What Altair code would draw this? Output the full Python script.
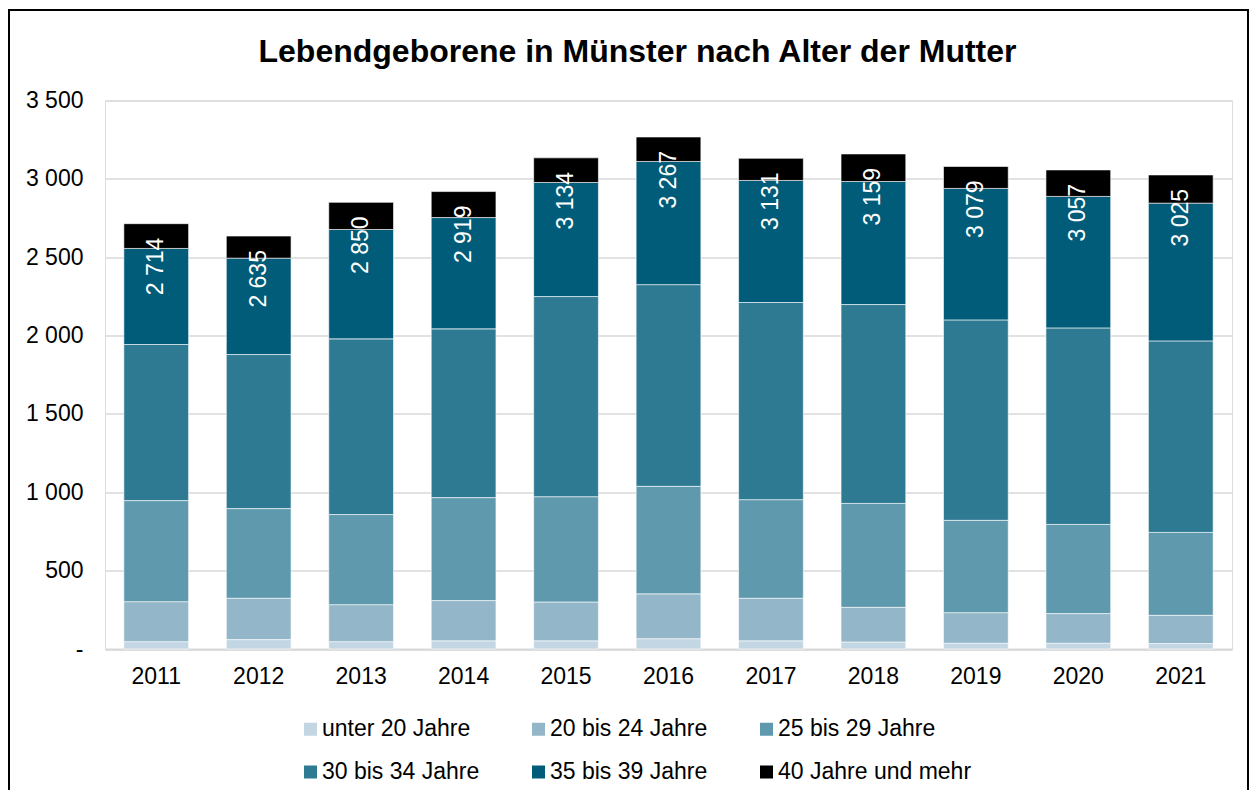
import altair as alt
import pandas as pd

years = ["2011", "2012", "2013", "2014", "2015", "2016", "2017", "2018", "2019", "2020", "2021"]
groups = ["unter 20 Jahre", "20 bis 24 Jahre", "25 bis 29 Jahre",
          "30 bis 34 Jahre", "35 bis 39 Jahre", "40 Jahre und mehr"]
colors = ["#c3d6e3", "#93b6c8", "#5f99ad", "#2f7a93", "#005c78", "#000000"]

u20 = [47, 60, 47, 52, 52, 66, 52, 45, 37, 37, 35]
a20_24 = [255, 264, 236, 257, 248, 286, 272, 221, 195, 189, 180]
a25_29 = [645, 572, 575, 657, 672, 686, 629, 663, 589, 569, 529]
a30_34 = [996, 983, 1121, 1077, 1277, 1287, 1258, 1269, 1279, 1254, 1222]
a35_39 = [613, 615, 698, 710, 728, 786, 779, 785, 839, 839, 879]
a40 = [158, 141, 173, 166, 157, 156, 141, 176, 140, 169, 180]
totals = [2714, 2635, 2850, 2919, 3134, 3267, 3131, 3159, 3079, 3057, 3025]

series = [u20, a20_24, a25_29, a30_34, a35_39, a40]
rows = []
for gi, (g, vals) in enumerate(zip(groups, series)):
    for y, v in zip(years, vals):
        rows.append({"year": y, "group": g, "idx": gi, "value": v})
df = pd.DataFrame(rows)

df_tot = pd.DataFrame({
    "year": years,
    "total": totals,
    "label": [f"{t:,}".replace(",", " ") for t in totals],
})

FONT = "Liberation Sans"

x_enc = alt.X("year:N", sort=years, title=None,
              scale=alt.Scale(paddingInner=0.368, paddingOuter=0.184),
              axis=alt.Axis(labelAngle=0, ticks=False, domainColor="#d9d9d9",
                            domainWidth=2, labelPadding=16, labelFontSize=23,
                            labelColor="#000000", labelFont=FONT, grid=False))

bars = alt.Chart(df).mark_bar(stroke="white", strokeWidth=0.6).encode(
    x=x_enc,
    y=alt.Y("value:Q", stack="zero", title=None,
            scale=alt.Scale(domain=[0, 3500], nice=False),
            axis=alt.Axis(values=[0, 500, 1000, 1500, 2000, 2500, 3000, 3500],
                          labelExpr="datum.value == 0 ? '-' : replace(format(datum.value, ','), ',', ' ')",
                          domain=False, ticks=False, gridColor="#d9d9d9", gridWidth=1.5,
                          labelPadding=22, labelFontSize=23, labelColor="#000000",
                          labelFont=FONT)),
    color=alt.Color("group:N", scale=alt.Scale(domain=groups, range=colors),
                    legend=alt.Legend(title=None, orient="none", legendX=194, legendY=617,
                                      direction="horizontal", columns=3,
                                      symbolType="square", symbolSize=169,
                                      symbolStrokeWidth=0, labelFontSize=23,
                                      labelFont=FONT, labelColor="#000000",
                                      labelOffset=0, rowPadding=19, columnPadding=47,
                                      padding=0, labelLimit=400)),
    order=alt.Order("idx:Q", sort="ascending"),
)

labels = alt.Chart(df_tot).mark_text(
    angle=270, align="right", baseline="middle", dx=-14,
    color="white", fontSize=23, font=FONT
).encode(
    x=alt.X("year:N", sort=years),
    y=alt.Y("total:Q"),
    text="label:N",
)

frame = alt.Chart(alt.Data(values=[{"a": 1}])).mark_rect(
    filled=False, stroke="black", strokeWidth=2
).encode(
    x=alt.value(-96), x2=alt.value(1143), y=alt.value(-90.5), y2=alt.value(720)
)

chart = alt.layer(bars, labels, frame).properties(
    width=1127, height=548.5,
    autosize=alt.AutoSizeParams(type="none"),
    padding={"left": 97, "top": 92.5, "right": 17, "bottom": 141},
    title=alt.TitleParams("Lebendgeborene in Münster nach Alter der Mutter",
                          font=FONT, fontSize=32, fontWeight="bold", color="#000000",
                          anchor="middle", dx=-31, offset=0, dy=85, baseline="alphabetic"),
).configure_view(stroke=None).configure(background="white")

chart.save("out.html", embed_options={"renderer": "svg", "actions": False})
